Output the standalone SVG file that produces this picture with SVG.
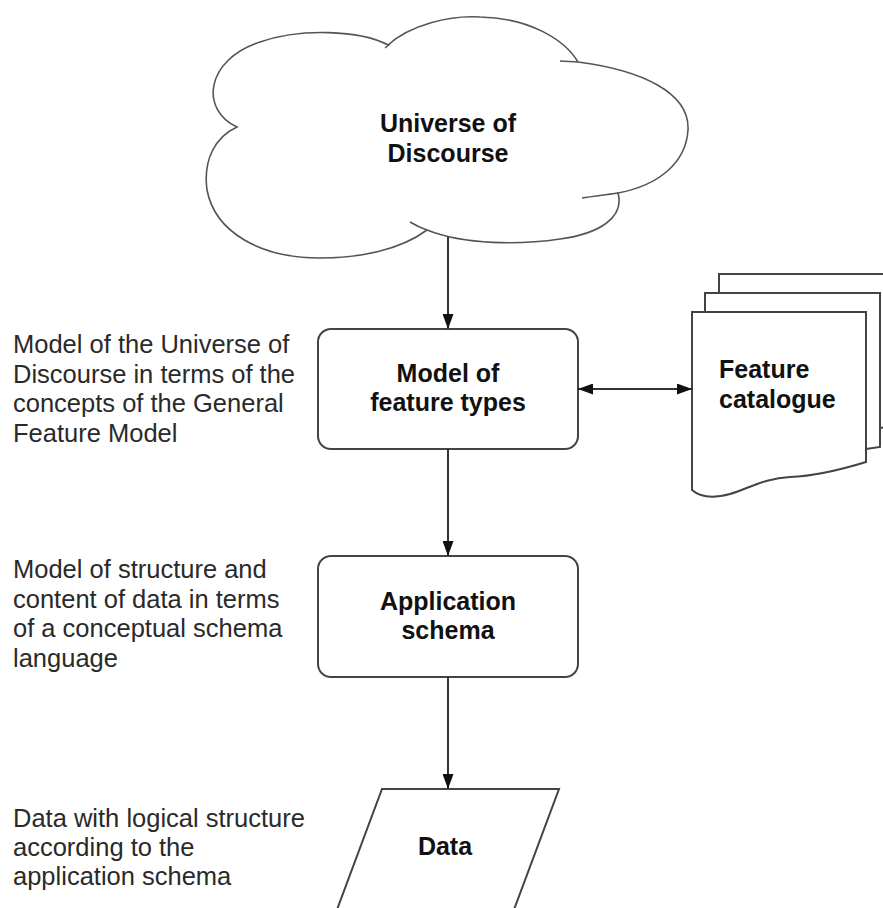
<svg xmlns="http://www.w3.org/2000/svg" width="883" height="908" viewBox="0 0 883 908">
<style>
.shape{fill:#fff;stroke:#444;stroke-width:2}
.cloudline{fill:#fff;stroke:#555;stroke-width:1.6}
.thin{fill:none;stroke:#555;stroke-width:1.6}
.title{font-family:"Liberation Sans",Arial,sans-serif;font-size:25px;font-weight:bold;fill:#111}
.note{font-family:"Liberation Sans",Arial,sans-serif;font-size:25.5px;fill:#2a2a2a}
.conn{fill:none;stroke:#333;stroke-width:2}
</style>
<defs>
<marker id="arrow" viewBox="0 0 15 11" refX="15" refY="5.5" markerWidth="15" markerHeight="11" markerUnits="userSpaceOnUse" orient="auto-start-reverse">
<path d="M0,0 L15,5.5 L0,11 Z" fill="#111"/>
</marker>
</defs>
<rect width="883" height="908" fill="#fff"/>

<g id="cloud">
<path class="cloudline" d="M237,127 C200,110 205,60 260,42 C300,28 360,30 388,45 C410,25 450,15 480,17 C530,18 565,40 578,62 C640,70 690,92 688,130 C686,162 660,185 618,193 C625,218 598,234 560,239 C520,245 465,245 427,230 C400,250 360,258 320,258 C260,258 215,232 207,190 C203,160 215,137 237,127 Z"/>
<path class="thin" d="M560,61 L578,62 M582,198 C595,196 605,195 618,193 M410,222 C415,225 421,228 427,230 M385,48 L390,44"/>
<text class="title" x="448" y="132" text-anchor="middle">Universe of</text>
<text class="title" x="448" y="162" text-anchor="middle">Discourse</text>
</g>

<g id="model-feature-types">
<rect class="shape" x="318" y="329" width="260" height="120" rx="13"/>
<text class="title" x="448" y="382" text-anchor="middle">Model of</text>
<text class="title" x="448" y="411" text-anchor="middle">feature types</text>
</g>

<g id="feature-catalogue">
<path class="shape" d="M719,293 L719,274 L886,274 L886,427 L880,428"/>
<path class="shape" d="M705,312 L705,293 L880,293 L880,447 L866,449"/>
<path class="shape" d="M692,312 L866,312 L866,462 C840,470 815,476 790,477 C765,478 750,488 730,494 C712,499 700,497 692,490 Z"/>
<text class="title" x="719" y="378">Feature</text>
<text class="title" x="719" y="408">catalogue</text>
</g>

<g id="application-schema">
<rect class="shape" x="318" y="556" width="260" height="121" rx="13"/>
<text class="title" x="448" y="610" text-anchor="middle">Application</text>
<text class="title" x="448" y="639" text-anchor="middle">schema</text>
</g>

<g id="data">
<path class="shape" d="M335,915 L382,789 L559,789 L512,915"/>
<text class="title" x="445" y="855" text-anchor="middle">Data</text>
</g>

<g id="note-feature-model">
<text class="note" x="13" y="353">Model of the Universe of</text>
<text class="note" x="13" y="383">Discourse in terms of the</text>
<text class="note" x="13" y="412">concepts of the General</text>
<text class="note" x="13" y="442">Feature Model</text>
</g>

<g id="note-schema">
<text class="note" x="13" y="578">Model of structure and</text>
<text class="note" x="13" y="608">content of data in terms</text>
<text class="note" x="13" y="637">of a conceptual schema</text>
<text class="note" x="13" y="667">language</text>
</g>

<g id="note-data">
<text class="note" x="13" y="827">Data with logical structure</text>
<text class="note" x="13" y="856">according to the</text>
<text class="note" x="13" y="885">application schema</text>
</g>

<g id="connectors">
<line class="conn" x1="448" y1="237" x2="448" y2="329" marker-end="url(#arrow)"/>
<line class="conn" x1="578" y1="389" x2="692" y2="389" marker-start="url(#arrow)" marker-end="url(#arrow)"/>
<line class="conn" x1="448" y1="449" x2="448" y2="556" marker-end="url(#arrow)"/>
<line class="conn" x1="448" y1="677" x2="448" y2="789" marker-end="url(#arrow)"/>
</g>
</svg>
